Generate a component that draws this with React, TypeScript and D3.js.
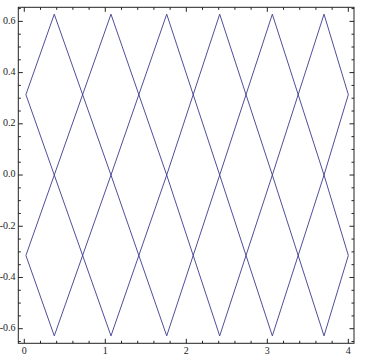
import React from "react";
import * as d3 from "d3";

const vertexX = [0.02, 0.37, 1.07, 1.758, 2.412, 3.062, 3.7, 4.0];
const lineA = [0.314, 0.628, 0, 0.628, 0, 0.628, 0, 0.314];
const lineB = [0.314, 0, 0.628, 0, 0.628, 0, 0.628, 0.314];
const lineC = [-0.314, -0.628, 0, -0.628, 0, -0.628, 0, -0.314];
const lineD = [-0.314, 0, -0.628, 0, -0.628, 0, -0.628, -0.314];
const series = [lineA, lineB, lineC, lineD];

const xMajor = [0, 1, 2, 3, 4];
const xLabels = ["0", "1", "2", "3", "4"];
const yMajor = [-0.6, -0.4, -0.2, 0, 0.2, 0.4, 0.6];
const yLabels = ["-0.6", "-0.4", "-0.2", "0.0", "0.2", "0.4", "0.6"];

const W = 369;
const H = 364;

export default function App() {
  const x = d3.scaleLinear().domain([-0.074, 4.07]).range([18.3, 354]);
  const y = d3.scaleLinear().domain([-0.657, 0.655]).range([343.3, 7.3]);
  const [x0, x1] = x.range();
  const [y0, y1] = y.range();

  const line = d3
    .line<number>()
    .x((_, i) => x(vertexX[i]))
    .y((d) => y(d));

  const xMinor = d3.range(0, 4.001, 0.2).filter((v) => Math.abs(v - Math.round(v)) > 1e-6);
  const yMinor = d3.range(-0.65, 0.651, 0.05).filter((v) => Math.abs(v * 5 - Math.round(v * 5)) > 1e-6);

  const majorLen = 4.5;
  const minorLen = 2.5;
  const tickColor = "#222";

  return (
    <svg
      width={W}
      height={H}
      style={{ position: "absolute", left: 0, top: 0, background: "#fff" }}
    >
      {series.map((s, i) => (
        <path
          key={i}
          d={line(s) || ""}
          fill="none"
          stroke="#3c3b8e"
          strokeWidth={1}
          strokeOpacity={0.9}
        />
      ))}
      <rect
        x={x0}
        y={y1}
        width={x1 - x0}
        height={y0 - y1}
        fill="none"
        stroke={tickColor}
        strokeWidth={1}
      />
      {/* x ticks bottom & top */}
      {xMajor.map((v) => (
        <g key={"xm" + v}>
          <line x1={x(v)} x2={x(v)} y1={y0} y2={y0 - majorLen} stroke={tickColor} />
          <line x1={x(v)} x2={x(v)} y1={y1} y2={y1 + majorLen} stroke={tickColor} />
        </g>
      ))}
      {xMinor.map((v) => (
        <g key={"xn" + v}>
          <line x1={x(v)} x2={x(v)} y1={y0} y2={y0 - minorLen} stroke={tickColor} />
          <line x1={x(v)} x2={x(v)} y1={y1} y2={y1 + minorLen} stroke={tickColor} />
        </g>
      ))}
      {/* y ticks left & right */}
      {yMajor.map((v) => (
        <g key={"ym" + v}>
          <line x1={x0} x2={x0 + majorLen} y1={y(v)} y2={y(v)} stroke={tickColor} />
          <line x1={x1} x2={x1 - majorLen} y1={y(v)} y2={y(v)} stroke={tickColor} />
        </g>
      ))}
      {yMinor.map((v) => (
        <g key={"yn" + v.toFixed(2)}>
          <line x1={x0} x2={x0 + minorLen} y1={y(v)} y2={y(v)} stroke={tickColor} />
          <line x1={x1} x2={x1 - minorLen} y1={y(v)} y2={y(v)} stroke={tickColor} />
        </g>
      ))}
      {xMajor.map((v, i) => (
        <text
          key={"xl" + v}
          x={x(v)}
          y={352}
          textAnchor="middle"
          dominantBaseline="middle"
          fontFamily="Liberation Serif, serif"
          fontSize={10}
          fill="#222"
        >
          {xLabels[i]}
        </text>
      ))}
      {yMajor.map((v, i) => (
        <text
          key={"yl" + v}
          x={15.5}
          y={y(v)}
          textAnchor="end"
          dominantBaseline="middle"
          fontFamily="Liberation Serif, serif"
          fontSize={10}
          fill="#222"
        >
          {yLabels[i]}
        </text>
      ))}
    </svg>
  );
}
